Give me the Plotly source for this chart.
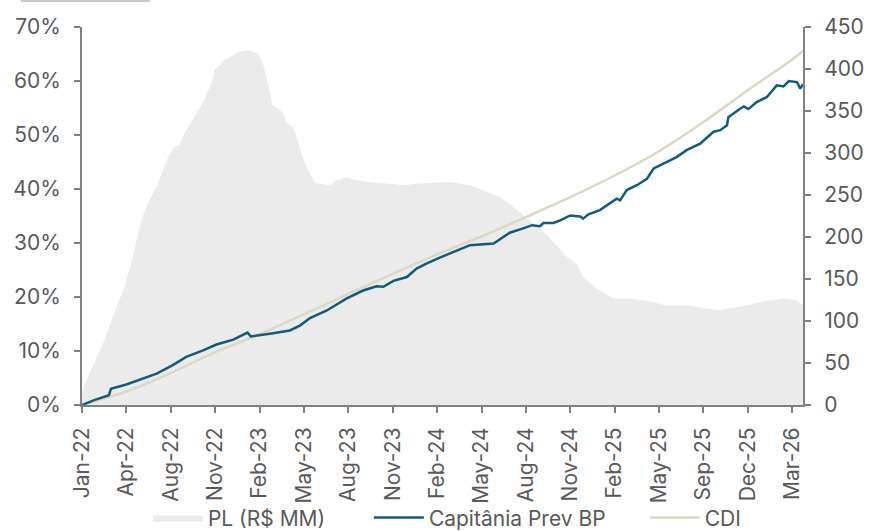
import plotly.graph_objects as go

# eixo x: indice de dias uteis desde jan-22
tick_pos = [0, 66, 132, 198, 264, 330, 396, 462, 528, 594, 660, 726, 792, 858, 924, 990, 1056]
tick_labels = ["Jan-22", "Apr-22", "Aug-22", "Nov-22", "Feb-23", "May-23", "Aug-23", "Nov-23",
               "Feb-24", "May-24", "Aug-24", "Nov-24", "Feb-25", "May-25", "Sep-25", "Dec-25", "Mar-26"]

# PL do fundo (R$ MM) - eixo da direita
pl_dias = [0, 4, 18, 33, 48, 63, 73, 80, 88, 98, 113, 128, 137, 145, 152, 167, 182, 192, 197,
           212, 232, 247, 262, 269, 274, 279, 283, 292, 299, 303, 312, 319, 326, 336, 346, 356,
           369, 379, 393, 408, 428, 453, 478, 502, 527, 547, 577, 602, 622, 641, 656, 681, 701,
           721, 736, 745, 765, 790, 815, 830, 850, 865, 899, 929, 949, 989, 1018, 1043, 1063, 1072]
pl_valores = [13.9, 25.5, 49.3, 77.0, 108.8, 140.5, 168.3, 192.1, 219.9, 239.8, 263.6, 295.2,
              307.1, 309.2, 323.1, 342.9, 362.7, 382.6, 398.5, 410.4, 420.2, 422.3, 418.3, 406.4,
              390.5, 374.6, 356.8, 352.9, 346.9, 336.9, 331.8, 319.0, 299.3, 279.4, 265.5, 262.7,
              261.5, 267.5, 270.7, 267.5, 265.5, 263.6, 261.5, 263.6, 264.3, 265.5, 261.5, 253.6,
              247.6, 235.7, 225.8, 210.0, 194.0, 176.2, 168.3, 152.4, 138.6, 126.7, 126.7, 124.6,
              122.6, 118.7, 118.7, 114.8, 112.7, 118.7, 123.8, 126.7, 124.6, 118.7]

# retorno acumulado do fundo (%)
fundo_dias = [0, 18, 40, 43, 66, 91, 111, 135, 155, 180, 200, 225, 237, 246, 251, 264, 284, 309,
              324, 339, 364, 393, 418, 438, 448, 463, 483, 498, 512, 532, 557, 577, 612, 619, 636,
              656, 669, 681, 686, 701, 711, 726, 741, 745, 753, 770, 780, 795, 800, 810, 825, 840,
              850, 870, 884, 899, 919, 939, 949, 959, 961, 979, 984, 991, 1003, 1018, 1033, 1043,
              1051, 1063, 1068, 1072]
fundo_ret = [0.0, 0.9, 1.8, 3.0, 3.8, 4.9, 5.8, 7.4, 8.9, 10.1, 11.2, 12.1, 12.9, 13.4, 12.7, 12.9,
             13.3, 13.8, 14.7, 16.1, 17.5, 19.7, 21.2, 22.0, 21.9, 23.0, 23.7, 25.3, 26.2, 27.3,
             28.6, 29.6, 29.9, 30.5, 31.9, 32.7, 33.3, 33.1, 33.7, 33.7, 34.2, 35.1, 34.9, 34.5,
             35.3, 36.1, 37.0, 38.2, 37.9, 39.8, 40.7, 41.9, 43.8, 45.0, 45.9, 47.2, 48.4, 50.6,
             50.9, 51.8, 53.3, 54.9, 55.3, 54.8, 56.1, 57.0, 59.2, 59.0, 60.0, 59.8, 58.6, 59.4]

# CDI acumulado (%)
cdi_dias = [0, 66, 132, 198, 264, 330, 396, 462, 528, 594, 660, 726, 792, 858, 924, 990, 1056, 1072]
cdi_ret = [0.0, 2.5, 5.9, 9.8, 13.1, 16.8, 20.6, 24.3, 27.9, 31.2, 34.8, 38.5, 42.5, 47.0, 52.4,
           58.3, 64.0, 65.6]

FONTE = "Inter"
TEXTO = "#595959"
EIXO = "#808080"

fig = go.Figure()

# PL no eixo "y" (desenhado primeiro, fica atras das linhas)
fig.add_trace(go.Scatter(
    x=pl_dias, y=pl_valores, name="PL (R$ MM)", yaxis="y",
    mode="lines", fill="tozeroy", fillcolor="#EBEBEB",
    line=dict(width=0, color="#EBEBEB"), legend="legend", showlegend=True,
))
fig.add_trace(go.Scatter(
    x=cdi_dias, y=cdi_ret, name="CDI", mode="lines", yaxis="y2",
    line=dict(color="#DDD8C4", width=2.5, shape="spline"), legend="legend3", showlegend=True,
))
fig.add_trace(go.Scatter(
    x=fundo_dias, y=fundo_ret, name="Capitânia Prev BP", mode="lines", yaxis="y2",
    line=dict(color="#125B7B", width=2.5), legend="legend2", showlegend=True,
))

eixo_y = dict(
    showline=True, linecolor=EIXO, linewidth=2, ticks="outside", ticklen=6,
    tickcolor=EIXO, tickwidth=2, showgrid=False, zeroline=False, automargin=False,
    tickfont=dict(family=FONTE, size=21, color=TEXTO), ticklabelstandoff=9,
)

leg = dict(orientation="h", xref="container", yref="container", xanchor="left",
           y=0.025, yanchor="middle",
           font=dict(family=FONTE, size=21, color=TEXTO), itemwidth=50,
           bgcolor="rgba(0,0,0,0)")

fig.update_layout(
    width=870, height=531,
    margin=dict(l=82, r=67, t=27, b=126),
    plot_bgcolor="white", paper_bgcolor="white",
    font=dict(family=FONTE, size=21, color=TEXTO),
    showlegend=True,
    xaxis=dict(
        range=[0, 1072], tickvals=tick_pos, ticktext=tick_labels, tickangle=-90,
        showline=True, linecolor=EIXO, linewidth=2, ticks="outside", ticklen=6,
        tickcolor=EIXO, tickwidth=2, showgrid=False, zeroline=False, automargin=False,
        tickfont=dict(family=FONTE, size=21, color=TEXTO), ticklabelstandoff=6,
    ),
    yaxis=dict(range=[0, 450], dtick=50, side="right", **eixo_y),
    yaxis2=dict(range=[0, 70], dtick=10, ticksuffix="%", overlaying="y", side="left", **eixo_y),
    legend=dict(x=0.170, **leg),
    legend2=dict(x=0.424, **leg),
    legend3=dict(x=0.741, **leg),
    shapes=[dict(type="line", xref="paper", yref="paper", x0=-0.085, x1=0.094,
                 y0=1.069, y1=1.069, line=dict(color="#C8C8C8", width=2))],
)

# sem a margem padrao do <body>, para a figura ocupar a janela toda
fig.write_html("out.html", config={"displayModeBar": False},
               post_script="document.body.style.margin='0';")
